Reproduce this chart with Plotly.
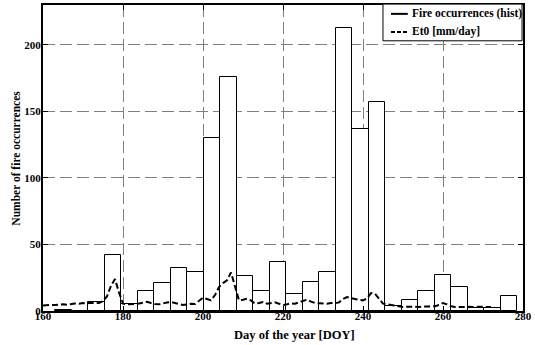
import plotly.graph_objects as go
import numpy as np

# Histogram of fire occurrences (28 bins)
bin_start = 163.1
bin_width = 4.125
fire_counts = [1, 0, 7, 42, 5, 15, 21, 32, 29, 130, 176, 26, 15, 37,
               13, 22, 29, 213, 137, 157, 4, 8, 15, 27, 18, 2, 2, 11]

# Daily Et0 [mm/day]
et0_doy = list(range(160, 273))
et0_vals = [4.2, 4.5, 4.6, 4.5, 4.8, 5.0, 4.7, 5.2, 5.6, 5.4,
            6.0, 5.8, 6.2, 5.9, 6.0, 7.5, 11, 19, 24, 14,
            5.5, 5.0, 5.2, 5.0, 5.6, 6.2, 7.0, 6.0, 5.2, 5.0,
            5.8, 6.4, 6.8, 6.0, 5.0, 4.5, 5.0, 5.4, 5.2, 7.5,
            10, 9, 8, 12, 18, 21, 23, 29, 18, 8,
            8.5, 9.2, 8, 5.5, 6, 6.8, 5.5, 6.2, 6.5, 5.5,
            4.5, 5.0, 5.8, 5.5, 6.5, 7.5, 8.5, 7.0, 6.0, 5.8,
            5.5, 5.5, 6.0, 5.8, 6.5, 9, 10.5, 9.5, 9, 8.5,
            8, 9.5, 13.5, 13, 9, 5.5, 5, 4.5, 4, 3.8,
            3, 3.2, 3.4, 3.2, 3.0, 3.5, 3.3, 3.2, 3.6, 4.5,
            6.0, 5.0, 3.5, 3.0, 2.8, 3.0, 3.2, 3.0, 3.0, 3.2,
            3.0, 3.0, 3.0]

series_names = ["Fire occurrences (hist)", "Et0 [mm/day]"]
x_ticks = [160, 180, 200, 220, 240, 260, 280]
y_ticks = [0, 50, 100, 150, 200]

centers = bin_start + bin_width * (np.arange(len(fire_counts)) + 0.5)

FONT = "Liberation Serif"
ET0_DASH = "6px,3px"

fig = go.Figure()
fig.add_trace(go.Bar(
    x=centers, y=fire_counts, width=bin_width,
    marker=dict(color="white", line=dict(color="black", width=1)),
    showlegend=False, name=series_names[0]))
fig.add_trace(go.Scatter(
    x=et0_doy, y=et0_vals, mode="lines", name=series_names[1], showlegend=False,
    line=dict(color="black", width=2, dash=ET0_DASH)))

axis_common = dict(
    showline=True, linecolor="black", linewidth=2, mirror="ticks",
    ticks="inside", ticklen=5, tickcolor="black",
    showgrid=True, gridcolor="#7f7f7f", gridwidth=1, griddash="12px,5px",
    zeroline=False,
    tickfont=dict(family=FONT, size=11, color="black", weight="bold"),
)

fig.update_xaxes(range=[160, 280], tickvals=x_ticks, ticklabelstandoff=-6, **axis_common)
fig.update_yaxes(range=[0, 230], tickvals=y_ticks, ticklabelstandoff=-2, **axis_common)

fig.add_annotation(text="Day of the year [DOY]", xref="paper", yref="paper",
                   x=0.524, y=-0.079, showarrow=False, xanchor="center", yanchor="middle",
                   font=dict(family=FONT, size=12.5, color="black", weight="bold"))
fig.add_annotation(text="Number of fire occurrences", xref="paper", yref="paper",
                   x=-0.057, y=0.5, showarrow=False, textangle=-90,
                   xanchor="center", yanchor="middle",
                   font=dict(family=FONT, size=11.5, color="black", weight="bold"))

# Compact MATLAB-style legend box
fig.add_shape(type="rect", xref="paper", yref="paper",
              x0=0.7083, x1=0.998, y0=0.883, y1=1.003,
              line=dict(color="black", width=1), fillcolor="white", layer="above")
legend_rows = [(0.971, "solid"), (0.912, "4px,2px")]
for (ly, dash), name in zip(legend_rows, series_names):
    fig.add_shape(type="line", xref="paper", yref="paper",
                  x0=0.725, x1=0.760, y0=ly, y1=ly,
                  line=dict(color="black", width=2, dash=dash), layer="above")
    fig.add_annotation(text=name, xref="paper", yref="paper", x=0.764, y=ly,
                       xanchor="left", yanchor="middle", showarrow=False,
                       font=dict(family=FONT, size=11.5, color="black", weight="bold"))

fig.update_layout(
    width=535, height=345,
    margin=dict(l=43, r=12, t=3, b=34),
    plot_bgcolor="white", paper_bgcolor="white",
    bargap=0,
    showlegend=False,
)

fig.write_html("out.html", config={"displayModeBar": False},
               post_script="document.body.style.margin='0px';")
